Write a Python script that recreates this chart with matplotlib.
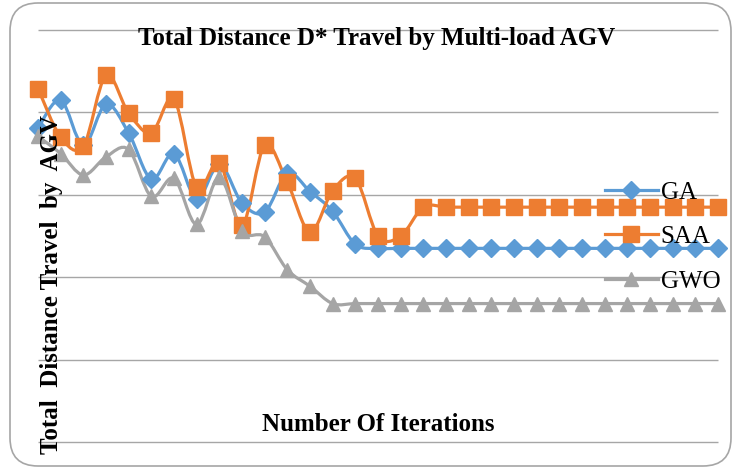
import numpy as np
import matplotlib.pyplot as plt
from matplotlib.path import Path
from matplotlib.patches import PathPatch, FancyBboxPatch
from matplotlib.lines import Line2D

plt.rcParams['font.family'] = ['Liberation Serif', 'DejaVu Serif']

iterations = np.arange(1, 32)
ga = [381, 415, 360, 410, 375, 319, 350, 295, 337, 290, 279, 326, 304, 280, 240,
      235, 235, 235, 235, 235, 235, 235, 235, 235, 235, 235, 235, 235, 235, 235, 235]
saa = [429, 370, 359, 445, 399, 375, 416, 309, 339, 263, 360, 315, 255, 305, 320,
       250, 250, 285, 285, 285, 285, 285, 285, 285, 285, 285, 285, 285, 285, 285, 285]
gwo = [371, 350, 324, 346, 355, 298, 320, 264, 321, 256, 249, 209, 189, 168,
       168, 168, 168, 168, 168, 168, 168, 168, 168, 168, 168, 168, 168, 168, 168, 168, 168]
series = [("GA", ga, "#5B9BD5", "D", 9), ("SAA", saa, "#ED7D31", "s", 11),
          ("GWO", gwo, "#A5A5A5", "^", 10)]


def smooth_path(x, y):
    # excel-like smoothed line: catmull-rom through the points as bezier
    pts = np.column_stack([x, y]).astype(float)
    n = len(pts)
    verts = [pts[0]]
    codes = [Path.MOVETO]
    for i in range(n - 1):
        p0 = pts[i - 1] if i > 0 else pts[i]
        p1 = pts[i]
        p2 = pts[i + 1]
        p3 = pts[i + 2] if i + 2 < n else pts[i + 1]
        verts += [p1 + (p2 - p0) / 6, p2 - (p3 - p1) / 6, p2]
        codes += [Path.CURVE4] * 3
    return Path(verts, codes)


fig = plt.figure(figsize=(7.33, 4.69), dpi=100)

bg = fig.add_axes([0, 0, 1, 1], zorder=-1)
bg.set_xlim(0, 733)
bg.set_ylim(469, 0)
bg.axis('off')
bg.add_patch(FancyBboxPatch((10, 3), 721, 463, boxstyle="round,pad=0,rounding_size=28",
                            facecolor='white', edgecolor='#a6a6a6', lw=1.2))

ax = fig.add_axes([38 / 733, 1 - 442 / 469, 680 / 733, 412 / 469])
ax.set_facecolor('none')
ax.set_xlim(1, 31)
ax.set_ylim(0, 500)
ax.hlines(np.arange(0, 501, 100), 1, 31, color='#a6a6a6', lw=1, clip_on=False, zorder=1)
ax.set_xticks([])
ax.set_yticks([])
for s in ax.spines.values():
    s.set_visible(False)

handles = []
for name, vals, col, mk, ms in series:
    ax.add_patch(PathPatch(smooth_path(iterations, vals), fill=False, edgecolor=col,
                           lw=2.3, clip_on=False, zorder=2))
    ax.plot(iterations, vals, ls='none', marker=mk, color=col, ms=ms, clip_on=False, zorder=3)
    handles.append(Line2D([], [], color=col, lw=2.3, marker=mk, ms=ms))

fig.legend(handles, [s[0] for s in series], loc='center left',
           bbox_to_anchor=(605 / 733, 1 - 237 / 469), frameon=False, fontsize=18,
           borderpad=0, borderaxespad=0, handlelength=2.1, handletextpad=0.12,
           labelspacing=0.88)

fig.text(377 / 733, 1 - 39 / 469, "Total Distance D* Travel by Multi-load AGV",
         ha='center', va='center', fontsize=18, fontweight='bold')
fig.text(378 / 733, 1 - 424 / 469, "Number Of Iterations",
         ha='center', va='center', fontsize=18, fontweight='bold')
fig.text(52 / 733, 1 - 285 / 469, "Total  Distance Travel  by  AGV", rotation=90,
         ha='center', va='center', fontsize=18, fontweight='bold')

fig.savefig("out.png", dpi=100)
